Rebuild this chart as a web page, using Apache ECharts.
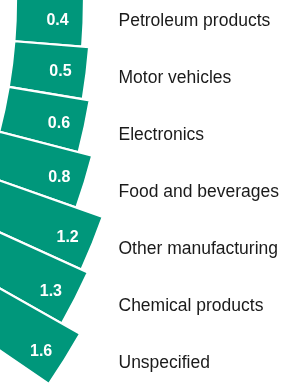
<!DOCTYPE html>
<html>
<head>
<meta charset="utf-8">
<script src="https://cdn.jsdelivr.net/npm/echarts@6/dist/echarts.min.js"></script>
<style>
html,body{margin:0;padding:0;background:#fff;}
#chart{width:281px;height:388px;}
</style>
</head>
<body>
<div id="chart"></div>
<script>
var categories = ['Petroleum products', 'Motor vehicles', 'Electronics', 'Food and beverages', 'Other manufacturing', 'Chemical products', 'Unspecified'];
var values = [0.4, 0.5, 0.6, 0.8, 1.2, 1.3, 1.6];
var radiusMin = -0.571;
var radiusMax = 1.6;

var chart = echarts.init(document.getElementById('chart'), null, {renderer: 'canvas'});
var FONT = '"Liberation Sans", Arial, sans-serif';
chart.setOption({
  animation: false,
  backgroundColor: '#ffffff',
  polar: {center: [-510, 0], radius: [526, 678]},
  angleAxis: {
    type: 'category',
    data: categories,
    startAngle: 0.5,
    endAngle: -34.5,
    clockwise: true,
    boundaryGap: true,
    axisLine: {show: false}, axisTick: {show: false}, axisLabel: {show: false}, splitLine: {show: false}
  },
  radiusAxis: {
    type: 'value',
    min: radiusMin,
    max: radiusMax,
    startValue: radiusMin,
    axisLine: {show: false}, axisTick: {show: false}, axisLabel: {show: false}, splitLine: {show: false}
  },
  grid: {left: 118.5, right: 0, top: 21, bottom: 25},
  xAxis: {type: 'value', show: false},
  yAxis: {
    type: 'category',
    data: categories,
    inverse: true,
    boundaryGap: false,
    axisLine: {show: false}, axisTick: {show: false}, splitLine: {show: false},
    axisLabel: {inside: true, margin: 0, color: '#1a1a1a', fontSize: 17.5, fontFamily: FONT}
  },
  series: [{
    type: 'bar',
    coordinateSystem: 'polar',
    data: values,
    barCategoryGap: '0%',
    itemStyle: {color: '#00977b', borderColor: '#ffffff', borderWidth: 2.2},
    label: {
      show: true,
      position: 'insideEnd',
      distance: 15,
      rotate: 0,
      align: 'right',
      verticalAlign: 'middle',
      color: '#ffffff',
      fontWeight: 'bold',
      fontSize: 16,
      fontFamily: FONT
    }
  }]
});
</script>
</body>
</html>
